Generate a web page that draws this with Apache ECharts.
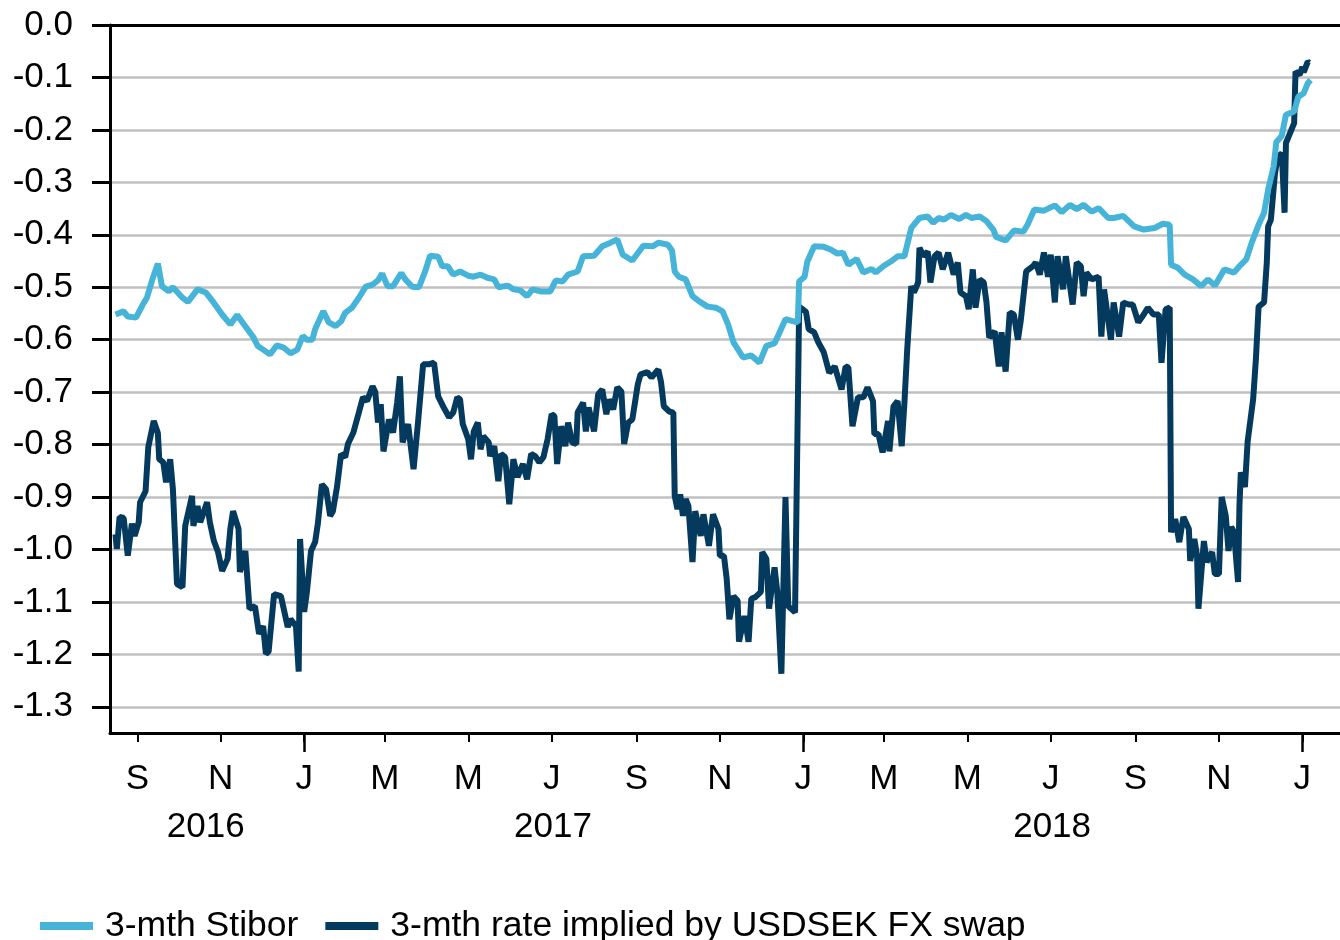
<!DOCTYPE html>
<html>
<head>
<meta charset="utf-8">
<title>3-mth Stibor vs USDSEK FX swap implied rate</title>
<script src="https://cdn.jsdelivr.net/npm/echarts@6/dist/echarts.min.js"></script>
<style>
  html, body { margin: 0; padding: 0; background: #fff; }
  #chart { width: 1340px; height: 940px; }
</style>
</head>
<body>
<div id="chart"></div>
<script>
// axis ticks / labels
const yTicks = [0, -0.1, -0.2, -0.3, -0.4, -0.5, -0.6, -0.7, -0.8, -0.9, -1.0, -1.1, -1.2, -1.3];
const monthTicks = ['2016-09-01', '2016-11-01', '2017-01-01', '2017-03-01', '2017-05-01', '2017-07-01',
  '2017-09-01', '2017-11-01', '2018-01-01', '2018-03-01', '2018-05-01', '2018-07-01',
  '2018-09-01', '2018-11-01', '2019-01-01'];
const yearTicks = ['2017-01-01', '2018-01-01', '2019-01-01'];
const yearLabelDates = ['2016-10-21', '2017-07-02', '2018-07-02'];
const monthLetters = ['J', 'F', 'M', 'A', 'M', 'J', 'J', 'A', 'S', 'O', 'N', 'D'];

// 3-mth Stibor
const stiborDates = ['2016-08-16', '2016-08-22', '2016-08-25', '2016-08-31', '2016-09-05', '2016-09-08',
  '2016-09-12', '2016-09-16', '2016-09-19', '2016-09-24', '2016-09-27', '2016-10-04', '2016-10-08',
  '2016-10-15', '2016-10-21', '2016-10-27', '2016-11-02', '2016-11-08', '2016-11-13', '2016-11-18',
  '2016-11-25', '2016-11-28', '2016-12-02', '2016-12-07', '2016-12-12', '2016-12-17', '2016-12-22',
  '2016-12-27', '2016-12-31', '2017-01-03', '2017-01-07', '2017-01-09', '2017-01-15', '2017-01-19',
  '2017-01-24', '2017-01-28', '2017-01-31', '2017-02-05', '2017-02-10', '2017-02-15', '2017-02-20',
  '2017-02-24', '2017-02-27', '2017-03-03', '2017-03-07', '2017-03-13', '2017-03-16', '2017-03-21',
  '2017-03-26', '2017-03-31', '2017-04-03', '2017-04-09', '2017-04-12', '2017-04-16', '2017-04-20',
  '2017-04-25', '2017-05-01', '2017-05-05', '2017-05-10', '2017-05-15', '2017-05-20', '2017-05-23',
  '2017-05-30', '2017-06-03', '2017-06-08', '2017-06-13', '2017-06-17', '2017-06-23', '2017-06-30',
  '2017-07-04', '2017-07-09', '2017-07-13', '2017-07-20', '2017-07-24', '2017-08-01', '2017-08-07',
  '2017-08-13', '2017-08-18', '2017-08-22', '2017-08-29', '2017-09-06', '2017-09-13', '2017-09-17',
  '2017-09-24', '2017-09-27', '2017-09-29', '2017-10-02', '2017-10-07', '2017-10-12', '2017-10-17',
  '2017-10-23', '2017-10-29', '2017-11-03', '2017-11-07', '2017-11-11', '2017-11-18', '2017-11-24',
  '2017-11-30', '2017-12-05', '2017-12-11', '2017-12-14', '2017-12-19', '2017-12-25', '2017-12-28',
  '2017-12-29', '2018-01-02', '2018-01-04', '2018-01-09', '2018-01-16', '2018-01-21', '2018-01-26',
  '2018-01-30', '2018-02-03', '2018-02-09', '2018-02-14', '2018-02-20', '2018-02-23', '2018-03-01',
  '2018-03-06', '2018-03-11', '2018-03-16', '2018-03-21', '2018-03-27', '2018-04-02', '2018-04-06',
  '2018-04-10', '2018-04-14', '2018-04-19', '2018-04-25', '2018-04-30', '2018-05-04', '2018-05-10',
  '2018-05-15', '2018-05-20', '2018-05-22', '2018-05-29', '2018-06-04', '2018-06-11', '2018-06-14',
  '2018-06-19', '2018-06-26', '2018-07-04', '2018-07-09', '2018-07-15', '2018-07-20', '2018-07-25',
  '2018-07-31', '2018-08-05', '2018-08-12', '2018-08-16', '2018-08-23', '2018-08-31', '2018-09-07',
  '2018-09-15', '2018-09-21', '2018-09-26', '2018-09-27', '2018-10-02', '2018-10-07', '2018-10-13',
  '2018-10-19', '2018-10-24', '2018-10-29', '2018-11-05', '2018-11-12', '2018-11-16', '2018-11-21',
  '2018-11-25', '2018-11-30', '2018-12-04', '2018-12-07', '2018-12-11', '2018-12-13', '2018-12-17',
  '2018-12-20', '2018-12-26', '2018-12-29', '2019-01-02', '2019-01-05', '2019-01-07'];
const stiborRates = [-0.552, -0.546, -0.556, -0.558, -0.533, -0.52,
  -0.485, -0.455, -0.498, -0.508, -0.50, -0.52, -0.528,
  -0.504, -0.51, -0.53, -0.552, -0.571, -0.553, -0.571,
  -0.596, -0.612, -0.619, -0.628, -0.611, -0.615, -0.626,
  -0.619, -0.593, -0.60, -0.60, -0.58, -0.546, -0.567,
  -0.574, -0.565, -0.549, -0.539, -0.52, -0.499, -0.495,
  -0.487, -0.474, -0.498, -0.498, -0.473, -0.485, -0.499,
  -0.50, -0.466, -0.44, -0.442, -0.46, -0.46, -0.476,
  -0.47, -0.478, -0.48, -0.476, -0.482, -0.485, -0.50,
  -0.497, -0.504, -0.506, -0.517, -0.504, -0.508, -0.508,
  -0.487, -0.489, -0.476, -0.47, -0.441, -0.44, -0.422,
  -0.415, -0.409, -0.438, -0.449, -0.421, -0.422, -0.415,
  -0.419, -0.43, -0.47, -0.48, -0.485, -0.517, -0.527,
  -0.537, -0.539, -0.546, -0.571, -0.605, -0.634, -0.63,
  -0.644, -0.612, -0.607, -0.59, -0.561, -0.565, -0.567,
  -0.489, -0.48, -0.451, -0.422, -0.423, -0.428, -0.436,
  -0.434, -0.457, -0.446, -0.472, -0.465, -0.472, -0.459,
  -0.451, -0.441, -0.441, -0.387, -0.368, -0.365, -0.377,
  -0.368, -0.371, -0.362, -0.37, -0.362, -0.368, -0.365,
  -0.374, -0.39, -0.404, -0.411, -0.392, -0.394, -0.381,
  -0.352, -0.354, -0.344, -0.357, -0.343, -0.351, -0.343,
  -0.356, -0.349, -0.368, -0.368, -0.364, -0.384, -0.39,
  -0.387, -0.379, -0.381, -0.457, -0.463, -0.476, -0.485,
  -0.498, -0.485, -0.497, -0.466, -0.472, -0.46, -0.447,
  -0.415, -0.381, -0.358, -0.314, -0.27, -0.223, -0.211,
  -0.171, -0.165, -0.137, -0.13, -0.111, -0.105];

// 3-mth rate implied by USDSEK FX swap
const swapDates = ['2016-08-16', '2016-08-17', '2016-08-19', '2016-08-22', '2016-08-25', '2016-08-28',
  '2016-08-30', '2016-09-02', '2016-09-03', '2016-09-07', '2016-09-09', '2016-09-13', '2016-09-16',
  '2016-09-17', '2016-09-20', '2016-09-22', '2016-09-25', '2016-09-27', '2016-09-28', '2016-09-30',
  '2016-10-04', '2016-10-06', '2016-10-11', '2016-10-12', '2016-10-15', '2016-10-17', '2016-10-22',
  '2016-10-24', '2016-10-27', '2016-10-30', '2016-11-02', '2016-11-06', '2016-11-08', '2016-11-10',
  '2016-11-14', '2016-11-15', '2016-11-19', '2016-11-22', '2016-11-26', '2016-11-29', '2016-12-02',
  '2016-12-04', '2016-12-06', '2016-12-10', '2016-12-15', '2016-12-20', '2016-12-22', '2016-12-26',
  '2016-12-28', '2016-12-29', '2017-01-01', '2017-01-03', '2017-01-06', '2017-01-09', '2017-01-11',
  '2017-01-14', '2017-01-17', '2017-01-20', '2017-01-22', '2017-01-25', '2017-01-28', '2017-01-31',
  '2017-02-02', '2017-02-06', '2017-02-10', '2017-02-13', '2017-02-16', '2017-02-20', '2017-02-22',
  '2017-02-24', '2017-02-26', '2017-02-28', '2017-03-04', '2017-03-07', '2017-03-10', '2017-03-12',
  '2017-03-14', '2017-03-18', '2017-03-22', '2017-03-25', '2017-03-29', '2017-04-02', '2017-04-06',
  '2017-04-09', '2017-04-13', '2017-04-17', '2017-04-20', '2017-04-23', '2017-04-25', '2017-04-27',
  '2017-05-01', '2017-05-03', '2017-05-05', '2017-05-08', '2017-05-10', '2017-05-12', '2017-05-16',
  '2017-05-17', '2017-05-20', '2017-05-23', '2017-05-25', '2017-05-28', '2017-05-31', '2017-06-03',
  '2017-06-06', '2017-06-10', '2017-06-13', '2017-06-16', '2017-06-19', '2017-06-22', '2017-06-25',
  '2017-06-28', '2017-07-01', '2017-07-03', '2017-07-05', '2017-07-08', '2017-07-11', '2017-07-13',
  '2017-07-16', '2017-07-19', '2017-07-20', '2017-07-24', '2017-07-26', '2017-07-28', '2017-08-01',
  '2017-08-04', '2017-08-07', '2017-08-10', '2017-08-12', '2017-08-15', '2017-08-18', '2017-08-21',
  '2017-08-23', '2017-08-26', '2017-08-29', '2017-09-02', '2017-09-04', '2017-09-09', '2017-09-12',
  '2017-09-17', '2017-09-19', '2017-09-21', '2017-09-25', '2017-09-28', '2017-09-29', '2017-10-01',
  '2017-10-03', '2017-10-05', '2017-10-07', '2017-10-09', '2017-10-12', '2017-10-14', '2017-10-18',
  '2017-10-20', '2017-10-24', '2017-10-27', '2017-10-31', '2017-11-01', '2017-11-04', '2017-11-06',
  '2017-11-08', '2017-11-11', '2017-11-14', '2017-11-15', '2017-11-19', '2017-11-22', '2017-11-24',
  '2017-11-27', '2017-12-01', '2017-12-02', '2017-12-05', '2017-12-07', '2017-12-11', '2017-12-13',
  '2017-12-16', '2017-12-19', '2017-12-21', '2017-12-26', '2017-12-29', '2018-01-03', '2018-01-05',
  '2018-01-09', '2018-01-12', '2018-01-16', '2018-01-20', '2018-01-24', '2018-01-29', '2018-02-01',
  '2018-02-03', '2018-02-06', '2018-02-10', '2018-02-14', '2018-02-17', '2018-02-21', '2018-02-22',
  '2018-02-25', '2018-02-28', '2018-03-04', '2018-03-05', '2018-03-08', '2018-03-11', '2018-03-14',
  '2018-03-16', '2018-03-18', '2018-03-21', '2018-03-23', '2018-03-26', '2018-03-27', '2018-03-30',
  '2018-04-02', '2018-04-04', '2018-04-07', '2018-04-10', '2018-04-13', '2018-04-17', '2018-04-21',
  '2018-04-24', '2018-04-26', '2018-04-30', '2018-05-02', '2018-05-05', '2018-05-07', '2018-05-10',
  '2018-05-13', '2018-05-15', '2018-05-17', '2018-05-21', '2018-05-24', '2018-05-26', '2018-05-29',
  '2018-06-01', '2018-06-04', '2018-06-07', '2018-06-09', '2018-06-13', '2018-06-18', '2018-06-20',
  '2018-06-23', '2018-06-26', '2018-06-29', '2018-07-01', '2018-07-04', '2018-07-06', '2018-07-10',
  '2018-07-12', '2018-07-17', '2018-07-20', '2018-07-23', '2018-07-25', '2018-07-27', '2018-07-31',
  '2018-08-05', '2018-08-07', '2018-08-09', '2018-08-14', '2018-08-16', '2018-08-20', '2018-08-23',
  '2018-08-27', '2018-08-30', '2018-09-03', '2018-09-07', '2018-09-10', '2018-09-14', '2018-09-18',
  '2018-09-20', '2018-09-23', '2018-09-26', '2018-09-27', '2018-09-30', '2018-10-03', '2018-10-06',
  '2018-10-10', '2018-10-11', '2018-10-14', '2018-10-16', '2018-10-17', '2018-10-21', '2018-10-23',
  '2018-10-27', '2018-10-29', '2018-11-01', '2018-11-03', '2018-11-06', '2018-11-08', '2018-11-10',
  '2018-11-12', '2018-11-15', '2018-11-16', '2018-11-17', '2018-11-20', '2018-11-22', '2018-11-26',
  '2018-11-28', '2018-11-30', '2018-12-04', '2018-12-06', '2018-12-07', '2018-12-09', '2018-12-12',
  '2018-12-14', '2018-12-17', '2018-12-19', '2018-12-20', '2018-12-23', '2018-12-26', '2018-12-27',
  '2018-12-30', '2019-01-01', '2019-01-02', '2019-01-05', '2019-01-06'];
const swapRates = [-0.971, -0.999, -0.938, -0.94, -1.012, -0.951,
  -0.974, -0.948, -0.91, -0.889, -0.805, -0.755, -0.778,
  -0.828, -0.834, -0.872, -0.828, -0.885, -0.885, -1.066,
  -1.072, -0.955, -0.898, -0.955, -0.917, -0.948, -0.91,
  -0.948, -0.984, -1.005, -1.041, -1.018, -0.961, -0.927,
  -0.961, -1.043, -1.003, -1.113, -1.108, -1.161, -1.146,
  -1.199, -1.195, -1.085, -1.089, -1.148, -1.133, -1.146,
  -1.233, -0.98, -1.119, -1.081, -1.003, -0.986, -0.951,
  -0.876, -0.885, -0.936, -0.927, -0.881, -0.818, -0.824,
  -0.799, -0.777, -0.739, -0.71, -0.717, -0.689, -0.70,
  -0.758, -0.723, -0.813, -0.752, -0.777, -0.72, -0.67,
  -0.796, -0.761, -0.847, -0.765, -0.647, -0.647, -0.644,
  -0.708, -0.729, -0.748, -0.739, -0.71, -0.714, -0.761,
  -0.79, -0.828, -0.775, -0.758, -0.809, -0.784, -0.796,
  -0.822, -0.803, -0.87, -0.818, -0.824, -0.914, -0.828,
  -0.862, -0.837, -0.866, -0.818, -0.822, -0.834, -0.824,
  -0.79, -0.742, -0.746, -0.837, -0.765, -0.803, -0.758,
  -0.796, -0.799, -0.739, -0.72, -0.775, -0.729, -0.775,
  -0.704, -0.695, -0.742, -0.714, -0.733, -0.691, -0.699,
  -0.799, -0.758, -0.752, -0.685, -0.666, -0.662, -0.672,
  -0.657, -0.681, -0.727, -0.737, -0.739, -0.898, -0.923,
  -0.895, -0.936, -0.904, -0.917, -1.024, -0.927, -0.974,
  -0.933, -0.993, -0.933, -0.961, -1.012, -1.012, -1.056,
  -1.133, -1.089, -1.098, -1.176, -1.127, -1.176, -1.094,
  -1.091, -1.081, -1.005, -1.018, -1.113, -1.034, -1.081,
  -1.237, -0.90, -1.108, -1.12, -0.537, -0.547, -0.58,
  -0.586, -0.605, -0.624, -0.663, -0.651, -0.695, -0.651,
  -0.653, -0.765, -0.71, -0.71, -0.691, -0.717, -0.78,
  -0.78, -0.815, -0.755, -0.813, -0.727, -0.717, -0.803,
  -0.72, -0.62, -0.498, -0.51, -0.491, -0.425, -0.441,
  -0.432, -0.491, -0.441, -0.434, -0.466, -0.434, -0.476,
  -0.453, -0.51, -0.517, -0.542, -0.466, -0.539, -0.485,
  -0.491, -0.529, -0.596, -0.584, -0.651, -0.586, -0.661,
  -0.548, -0.552, -0.60, -0.565, -0.47, -0.46, -0.453,
  -0.476, -0.434, -0.48, -0.438, -0.529, -0.441, -0.504,
  -0.441, -0.533, -0.453, -0.46, -0.517, -0.472, -0.485,
  -0.48, -0.594, -0.504, -0.60, -0.529, -0.594, -0.529,
  -0.533, -0.533, -0.567, -0.552, -0.539, -0.552, -0.552,
  -0.644, -0.542, -0.539, -0.967, -0.942, -0.986, -0.938,
  -0.961, -1.022, -0.98, -1.012, -1.113, -0.984, -1.024,
  -1.005, -1.047, -1.047, -0.90, -0.936, -1.003, -0.957,
  -0.967, -1.062, -0.917, -0.853, -0.881, -0.794, -0.714,
  -0.638, -0.537, -0.529, -0.453, -0.384, -0.371, -0.282,
  -0.251, -0.245, -0.358, -0.225, -0.206, -0.187, -0.089,
  -0.095, -0.08, -0.09, -0.07, -0.072];

const axisMin = '2016-08-12';
const axisMax = '2019-01-30';
const fontFamily = '"Liberation Sans", Arial, sans-serif';

// dates -> UTC timestamps for a numeric x axis
function ts(d) { return Date.parse(d); }

const chart = echarts.init(document.getElementById('chart'), null, { renderer: 'canvas' });

function dateAxis(extra) {
  return Object.assign({
    type: 'value',
    min: ts(axisMin),
    max: ts(axisMax),
    position: 'bottom',
    axisLine: { show: false, onZero: false },
    axisTick: { show: false },
    axisLabel: { show: false },
    splitLine: { show: false }
  }, extra);
}

chart.setOption({
  animation: false,
  backgroundColor: '#fff',
  textStyle: { fontFamily: fontFamily, color: '#000' },
  grid: {
    left: 110,
    right: -2,
    top: 25,
    bottom: 207,
    containLabel: false,
    outerBoundsMode: 'none'
  },
  legend: {
    left: 35,
    top: 903,
    icon: 'rect',
    itemWidth: 53,
    itemHeight: 8,
    itemGap: 27,
    data: ['3-mth Stibor', '3-mth rate implied by USDSEK FX swap'],
    textStyle: { fontSize: 35.5, color: '#000', fontFamily: fontFamily, padding: [0, 0, 0, 7] }
  },
  xAxis: [
    // month letters
    dateAxis({
      axisLine: { show: true, onZero: false, lineStyle: { color: '#000', width: 3 } },
      axisTick: { show: true, customValues: monthTicks.map(ts), length: 9, lineStyle: { color: '#000', width: 2 } },
      axisLabel: {
        show: true,
        customValues: monthTicks.map(ts),
        fontSize: 35,
        color: '#000',
        margin: 29,
        hideOverlap: false,
        formatter: function (v) { return monthLetters[new Date(v).getUTCMonth()]; }
      }
    }),
    // long year-boundary ticks
    dateAxis({
      axisTick: { show: true, customValues: yearTicks.map(ts), length: 19, lineStyle: { color: '#000', width: 2.5 } }
    }),
    // year labels
    dateAxis({
      axisLabel: {
        show: true,
        customValues: yearLabelDates.map(ts),
        fontSize: 35,
        color: '#000',
        margin: 77,
        hideOverlap: false,
        formatter: function (v) { return String(new Date(v).getUTCFullYear()); }
      }
    }),
    // top frame line
    dateAxis({
      position: 'top',
      axisLine: { show: true, onZero: false, lineStyle: { color: '#000', width: 3 } }
    })
  ],
  yAxis: {
    type: 'value',
    min: -1.35,
    max: 0,
    axisLine: { show: true, onZero: false, lineStyle: { color: '#000', width: 3 } },
    axisTick: { show: true, customValues: yTicks, length: 18, lineStyle: { color: '#000', width: 3 } },
    axisLabel: {
      customValues: yTicks,
      fontSize: 35,
      color: '#000',
      margin: 37,
      formatter: function (v) { return v.toFixed(1); }
    },
    splitLine: { show: true, lineStyle: { color: '#c0c0c0', width: 2.7 } }
  },
  series: [
    {
      name: '3-mth rate implied by USDSEK FX swap',
      type: 'line',
      xAxisIndex: 0,
      showSymbol: false,
      color: '#053a5f',
      lineStyle: { color: '#053a5f', width: 6 },
      data: swapDates.map((d, i) => [ts(d), swapRates[i]])
    },
    {
      name: '3-mth Stibor',
      type: 'line',
      xAxisIndex: 0,
      showSymbol: false,
      color: '#45b4d8',
      lineStyle: { color: '#45b4d8', width: 6 },
      data: stiborDates.map((d, i) => [ts(d), stiborRates[i]])
    }
  ]
});
</script>
</body>
</html>
